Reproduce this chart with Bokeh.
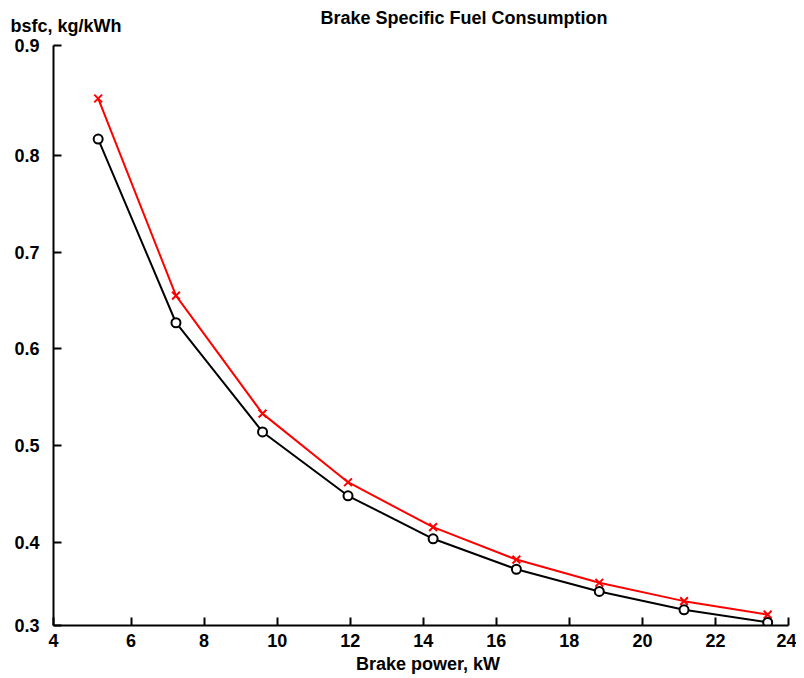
from bokeh.plotting import figure
from bokeh.layouts import column
from bokeh.models import Label, FixedTicker, CustomJSTickFormatter, Range1d
from bokeh.embed import file_html
from bokeh.resources import INLINE

# Data
power_kw = [5.10, 7.23, 9.60, 11.94, 14.27, 16.55, 18.82, 21.14, 23.43]
bsfc_black = [0.817, 0.627, 0.514, 0.448, 0.4035, 0.372, 0.349, 0.330, 0.317]
bsfc_red = [0.859, 0.655, 0.533, 0.462, 0.4155, 0.382, 0.358, 0.339, 0.325]

x_ticks = [3.877, 6, 8, 10, 12, 14, 16, 18, 20, 22, 24]
y_ticks = [0.3138, 0.4, 0.5, 0.6, 0.7, 0.8, 0.9138]

title_text = "Brake Specific Fuel Consumption"
x_label_text = "Brake power, kW"
y_label_text = "bsfc, kg/kWh"

FONT = "Liberation Sans"
W = 796


def text_strip(height):
    f = figure(width=W, height=height, output_backend="svg", toolbar_location=None,
               x_range=Range1d(0, W), y_range=Range1d(height, 0),
               x_axis_type=None, y_axis_type=None, min_border=0)
    f.frame_align = False
    f.outline_line_color = None
    f.xgrid.visible = False
    f.ygrid.visible = False
    return f


header = text_strip(36)
header.add_layout(Label(x=320, y=17.5, text=title_text, text_font=FONT,
                        text_font_style="bold", text_font_size="18px",
                        text_align="left", text_baseline="middle", text_color="black"))
header.add_layout(Label(x=10, y=25.5, text=y_label_text, text_font=FONT,
                        text_font_style="bold", text_font_size="18px",
                        text_align="left", text_baseline="middle", text_color="black"))

p = figure(width=W, height=619, output_backend="svg", toolbar_location=None,
           x_range=Range1d(3.877, 24.0), y_range=Range1d(0.3138, 0.9138),
           min_border_left=53, min_border_right=8, min_border_top=9, min_border_bottom=30)
p.frame_align = False
p.outline_line_color = None
p.xgrid.visible = False
p.ygrid.visible = False

for ax in (p.xaxis[0], p.yaxis[0]):
    ax.axis_line_width = 2
    ax.axis_line_color = "black"
    ax.major_tick_line_width = 2
    ax.major_tick_in = 8
    ax.major_tick_out = 0
    ax.minor_tick_line_color = None
    ax.major_label_text_font = FONT
    ax.major_label_text_font_style = "bold"
    ax.major_label_text_font_size = "18px"
    ax.major_label_text_color = "black"

p.xaxis[0].ticker = FixedTicker(ticks=x_ticks)
p.xaxis[0].formatter = CustomJSTickFormatter(code="return tick < 5 ? '4' : tick.toFixed(0);")
p.xaxis[0].major_label_standoff = 8
p.yaxis[0].ticker = FixedTicker(ticks=y_ticks)
p.yaxis[0].formatter = CustomJSTickFormatter(
    code="if (tick < 0.35) return '0.3'; if (tick > 0.85) return '0.9'; return tick.toFixed(1);")
p.yaxis[0].major_label_standoff = 14

# series
p.line(power_kw, bsfc_red, line_color="red", line_width=2)
p.scatter(power_kw, bsfc_red, marker="x", size=11, line_color="red", line_width=2)
p.line(power_kw, bsfc_black, line_color="black", line_width=2)
p.scatter(power_kw, bsfc_black, marker="circle", size=9, line_color="black",
          fill_color="white", line_width=2)

footer = text_strip(23)
footer.add_layout(Label(x=427.5, y=8, text=x_label_text, text_font=FONT,
                        text_font_style="bold", text_font_size="18px",
                        text_align="center", text_baseline="middle", text_color="black"))

layout = column(header, p, footer, spacing=0)
open("out.html", "w").write(file_html(layout, INLINE))
